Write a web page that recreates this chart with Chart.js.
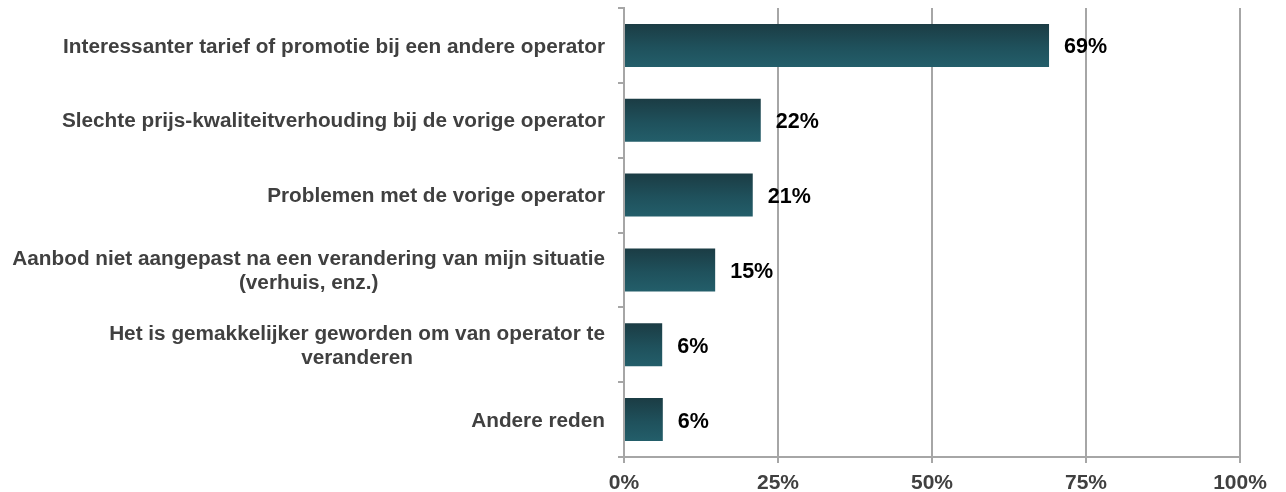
<!DOCTYPE html>
<html>
<head>
<meta charset="utf-8">
<script src="https://cdn.jsdelivr.net/npm/chart.js@4.4.1/dist/chart.umd.min.js"></script>
<style>
html,body{margin:0;padding:0;background:#fff;}
#wrap{width:1286px;height:492px;position:relative;}
</style>
</head>
<body>
<div id="wrap"><canvas id="c" width="1286" height="492"></canvas></div>
<script>
const categories = [
  ["Interessanter tarief of promotie bij een andere operator"],
  ["Slechte prijs-kwaliteitverhouding bij de vorige operator"],
  ["Problemen met de vorige operator"],
  ["Aanbod niet aangepast na een verandering van mijn situatie", "(verhuis, enz.)"],
  ["Het is gemakkelijker geworden om van operator te", "veranderen"],
  ["Andere reden"]
];
const values = [69.0, 22.2, 20.9, 14.8, 6.2, 6.3];
const valueLabels = ["69%", "22%", "21%", "15%", "6%", "6%"];
const xTicks = [0, 25, 50, 75, 100];

const FONT = "'Liberation Sans', Arial, sans-serif";
const AXIS_LEFT = 624;
const BAR_PCT = 0.575;

function barGradient(c) {
  const chart = c.chart;
  const ys = chart.scales && chart.scales.y;
  if (!ys || !chart.chartArea) return '#1f4d58';
  const y = ys.getPixelForValue(c.dataIndex);
  const h = (ys.height / categories.length) * BAR_PCT;
  const g = chart.ctx.createLinearGradient(0, y - h / 2, 0, y + h / 2);
  g.addColorStop(0, '#1b3c44');
  g.addColorStop(0.55, '#1f515c');
  g.addColorStop(1, '#235e6a');
  return g;
}

const labelPlugin = {
  id: 'customLabels',
  afterDraw(chart) {
    const ctx = chart.ctx;
    const ys = chart.scales.y;
    const meta = chart.getDatasetMeta(0);
    ctx.save();
    // category labels
    ctx.font = "bold 20.75px " + FONT;
    ctx.fillStyle = '#404040';
    ctx.textBaseline = 'middle';
    const rightX = AXIS_LEFT - 19;
    const lh = 24;
    categories.forEach((lines, i) => {
      const yc = ys.getPixelForValue(i) + 1.5;
      const widths = lines.map(l => ctx.measureText(l).width);
      const wMax = Math.max(...widths);
      const cx = rightX - wMax / 2;
      ctx.textAlign = 'center';
      lines.forEach((l, k) => {
        const yy = yc + (k - (lines.length - 1) / 2) * lh;
        ctx.fillText(l, cx, yy);
      });
    });
    // value labels
    ctx.font = "bold 21.5px " + FONT;
    ctx.fillStyle = '#000000';
    ctx.textAlign = 'left';
    meta.data.forEach((el, i) => {
      ctx.fillText(valueLabels[i], el.x + 15, el.y + 2);
    });
    ctx.restore();
  }
};

new Chart(document.getElementById('c'), {
  type: 'bar',
  data: {
    labels: categories.map(l => l.join(' ')),
    datasets: [{
      data: values,
      backgroundColor: barGradient,
      borderWidth: 0,
      categoryPercentage: 1,
      barPercentage: BAR_PCT
    }]
  },
  options: {
    indexAxis: 'y',
    responsive: false,
    animation: false,
    devicePixelRatio: 1,
    layout: { padding: { top: 8, right: 46, left: 0, bottom: 0 } },
    plugins: { legend: { display: false }, tooltip: { enabled: false } },
    scales: {
      x: {
        min: 0, max: 100,
        afterBuildTicks(scale) { scale.ticks = xTicks.map(v => ({ value: v })); },
        afterFit(scale) { scale.height = 35; },
        ticks: {
          callback: v => v + '%',
          color: '#404040',
          font: { family: FONT, size: 21, weight: 'bold' },
          padding: 8,
          maxRotation: 0
        },
        grid: { color: '#a6a6a6', lineWidth: 2, tickLength: 6, drawTicks: true },
        border: { color: '#a6a6a6', width: 2 }
      },
      y: {
        afterFit(scale) { scale.width = AXIS_LEFT; },
        ticks: { display: false },
        grid: { drawOnChartArea: false, drawTicks: true, tickLength: 6, color: '#a6a6a6', lineWidth: 2, offset: true },
        border: { color: '#a6a6a6', width: 2 }
      }
    }
  },
  plugins: [labelPlugin]
});
</script>
</body>
</html>
